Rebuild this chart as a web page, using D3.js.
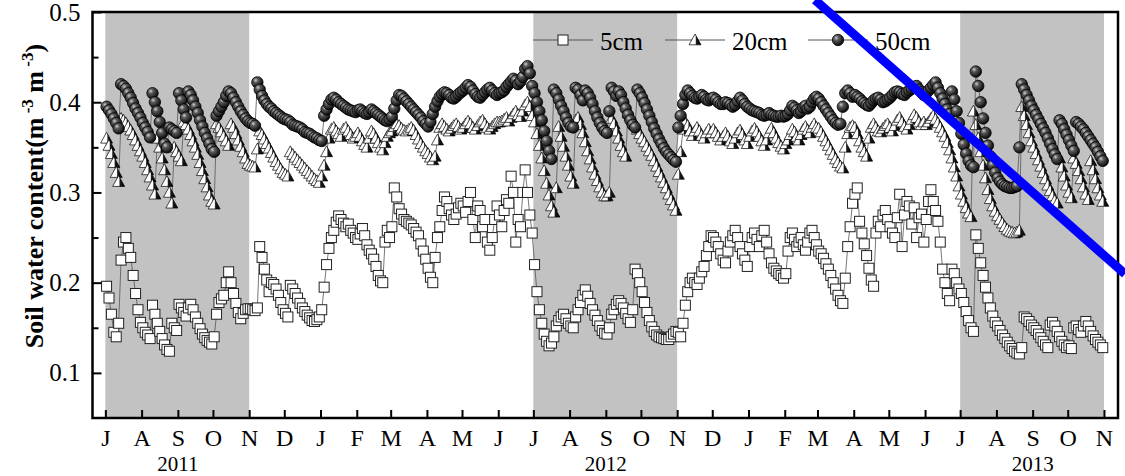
<!DOCTYPE html>
<html>
<head>
<meta charset="utf-8">
<script src="https://cdn.jsdelivr.net/npm/d3@7"></script>
<style>
  body { margin: 0; background: #fff; }
  svg { display: block; font-family: "Liberation Serif", "Times New Roman", serif; }
</style>
</head>
<body>
<div id="chart"></div>
<script>
// month tick labels Jul 2011 .. Nov 2013
const monthLabels = ["J","A","S","O","N","D","J","F","M","A","M","J","J","A","S","O","N","D","J","F","M","A","M","J","J","A","S","O","N"];
const years = ["2011", "2012", "2013"];
// grey bands: Jul-Oct of each year
const seasons = [
    ["2011-07-01", "2011-11-01"],
    ["2012-07-01", "2012-11-01"],
    ["2013-07-01", "2013-11-01"]
];
const seriesNames = ["5cm", "20cm", "50cm"];

// soil water content, one row per month (Jul 2011 .. Oct 2013), readings spread evenly over the month
const swc5 = [
    [0.196, 0.183, 0.165, 0.145, 0.14, 0.155, 0.225, 0.245, 0.25, 0.238, 0.228, 0.208, 0.188, 0.17, 0.156],
    [0.15, 0.145, 0.142, 0.138, 0.175, 0.165, 0.155, 0.146, 0.138, 0.131, 0.126, 0.124, 0.155, 0.15, 0.147],
    [0.176, 0.172, 0.167, 0.163, 0.172, 0.176, 0.17, 0.162, 0.155, 0.149, 0.143, 0.139, 0.136, 0.134, 0.132],
    [0.14, 0.165, 0.178, 0.182, 0.186, 0.2, 0.212, 0.2, 0.188, 0.177, 0.167, 0.16, 0.166, 0.17, 0.171],
    [0.171, 0.17, 0.169, 0.172, 0.24, 0.228, 0.215, 0.203, 0.19, 0.2, 0.198, 0.193, 0.186, 0.178, 0.17],
    [0.166, 0.162, 0.197, 0.193, 0.188, 0.183, 0.177, 0.172, 0.168, 0.164, 0.161, 0.158, 0.157, 0.159, 0.162],
    [0.17, 0.195, 0.22, 0.238, 0.25, 0.258, 0.267, 0.274, 0.27, 0.266, 0.262, 0.265, 0.258, 0.255, 0.25],
    [0.248, 0.254, 0.26, 0.252, 0.242, 0.236, 0.232, 0.226, 0.218, 0.208, 0.202, 0.2, 0.245, 0.258, 0.25],
    [0.262, 0.305, 0.295, 0.282, 0.276, 0.27, 0.268, 0.266, 0.264, 0.26, 0.256, 0.252, 0.243, 0.235, 0.226],
    [0.216, 0.206, 0.2, 0.228, 0.25, 0.262, 0.28, 0.295, 0.29, 0.282, 0.275, 0.27, 0.276, 0.283, 0.288],
    [0.285, 0.278, 0.29, 0.3, 0.27, 0.25, 0.285, 0.28, 0.262, 0.27, 0.245, 0.236, 0.25, 0.27, 0.285],
    [0.275, 0.262, 0.28, 0.292, 0.288, 0.318, 0.3, 0.245, 0.27, 0.262, 0.3, 0.325, 0.3, 0.275, 0.255],
    [0.22, 0.19, 0.17, 0.155, 0.143, 0.135, 0.13, 0.133, 0.14, 0.152, 0.158, 0.162, 0.165, 0.16, 0.155],
    [0.152, 0.15, 0.162, 0.17, 0.178, 0.186, 0.192, 0.185, 0.177, 0.17, 0.164, 0.158, 0.152, 0.147, 0.144],
    [0.143, 0.15, 0.165, 0.17, 0.176, 0.18, 0.177, 0.172, 0.166, 0.16, 0.156, 0.17, 0.215, 0.21, 0.2],
    [0.19, 0.178, 0.167, 0.158, 0.151, 0.146, 0.142, 0.14, 0.139, 0.138, 0.137, 0.137, 0.14, 0.143, 0.146],
    [0.145, 0.14, 0.155, 0.175, 0.19, 0.2, 0.205, 0.2, 0.198, 0.205, 0.212, 0.218, 0.23, 0.24, 0.252],
    [0.25, 0.245, 0.24, 0.232, 0.225, 0.222, 0.235, 0.245, 0.252, 0.258, 0.25, 0.24, 0.232, 0.225, 0.218],
    [0.24, 0.25, 0.255, 0.248, 0.24, 0.252, 0.258, 0.245, 0.232, 0.222, 0.216, 0.213, 0.21, 0.208, 0.205],
    [0.21, 0.235, 0.25, 0.255, 0.248, 0.24, 0.245, 0.25, 0.242, 0.236, 0.245, 0.255, 0.258, 0.25, 0.242],
    [0.235, 0.232, 0.227, 0.221, 0.215, 0.208, 0.2, 0.193, 0.186, 0.18, 0.177, 0.205, 0.24, 0.262, 0.288],
    [0.298, 0.305, 0.268, 0.255, 0.243, 0.23, 0.216, 0.203, 0.196, 0.255, 0.268, 0.262, 0.275, 0.28, 0.27],
    [0.262, 0.255, 0.25, 0.272, 0.298, 0.24, 0.275, 0.29, 0.285, 0.265, 0.283, 0.25, 0.272, 0.276, 0.245],
    [0.27, 0.29, 0.303, 0.29, 0.28, 0.268, 0.245, 0.215, 0.2, 0.188, 0.18, 0.215, 0.21, 0.2, 0.193],
    [0.188, 0.178, 0.168, 0.158, 0.15, 0.146, 0.253, 0.238, 0.222, 0.208, 0.195, 0.183, 0.172, 0.163, 0.156],
    [0.152, 0.147, 0.142, 0.138, 0.134, 0.13, 0.127, 0.124, 0.122, 0.121, 0.128, 0.162, 0.16, 0.157, 0.153],
    [0.15, 0.147, 0.143, 0.139, 0.135, 0.131, 0.128, 0.153, 0.156, 0.152, 0.146, 0.14, 0.135, 0.131, 0.128],
    [0.13, 0.127, 0.15, 0.152, 0.148, 0.145, 0.152, 0.157, 0.152, 0.146, 0.141, 0.137, 0.134, 0.131, 0.128]
];

const swc20 = [
    [0.36, 0.352, 0.343, 0.333, 0.322, 0.312, 0.382, 0.38, 0.377, 0.373, 0.369, 0.364, 0.358, 0.352, 0.346],
    [0.34, 0.333, 0.325, 0.317, 0.308, 0.298, 0.36, 0.35, 0.338, 0.325, 0.312, 0.3, 0.288, 0.35, 0.345],
    [0.34, 0.335, 0.378, 0.375, 0.37, 0.364, 0.357, 0.35, 0.342, 0.333, 0.324, 0.315, 0.306, 0.297, 0.29],
    [0.287, 0.376, 0.372, 0.367, 0.362, 0.357, 0.352, 0.376, 0.372, 0.365, 0.358, 0.351, 0.345, 0.338, 0.332],
    [0.33, 0.329, 0.328, 0.348, 0.368, 0.364, 0.359, 0.354, 0.349, 0.344, 0.339, 0.334, 0.33, 0.326, 0.322],
    [0.32, 0.318, 0.345, 0.342, 0.339, 0.336, 0.333, 0.33, 0.327, 0.324, 0.321, 0.318, 0.315, 0.313, 0.311],
    [0.318, 0.33, 0.345, 0.36, 0.37, 0.372, 0.368, 0.365, 0.362, 0.37, 0.372, 0.368, 0.364, 0.36, 0.362],
    [0.366, 0.362, 0.357, 0.353, 0.35, 0.36, 0.368, 0.365, 0.36, 0.355, 0.35, 0.347, 0.355, 0.362, 0.366],
    [0.368, 0.373, 0.376, 0.374, 0.371, 0.369, 0.368, 0.37, 0.372, 0.369, 0.364, 0.359, 0.354, 0.35, 0.346],
    [0.343, 0.339, 0.336, 0.34, 0.358, 0.372, 0.376, 0.373, 0.37, 0.368, 0.371, 0.374, 0.376, 0.373, 0.37],
    [0.372, 0.376, 0.379, 0.376, 0.372, 0.37, 0.374, 0.378, 0.38, 0.376, 0.372, 0.37, 0.373, 0.376, 0.378],
    [0.378, 0.379, 0.381, 0.383, 0.379, 0.383, 0.387, 0.39, 0.386, 0.384, 0.39, 0.397, 0.4, 0.395, 0.385],
    [0.378, 0.365, 0.352, 0.338, 0.324, 0.31, 0.297, 0.285, 0.278, 0.305, 0.373, 0.362, 0.351, 0.34, 0.33],
    [0.318, 0.31, 0.38, 0.383, 0.375, 0.366, 0.356, 0.346, 0.337, 0.328, 0.32, 0.313, 0.306, 0.3, 0.296],
    [0.296, 0.3, 0.382, 0.376, 0.368, 0.36, 0.352, 0.345, 0.34, 0.388, 0.385, 0.38, 0.375, 0.37, 0.365],
    [0.36, 0.356, 0.351, 0.346, 0.341, 0.335, 0.329, 0.323, 0.317, 0.311, 0.305, 0.298, 0.292, 0.286, 0.28],
    [0.32, 0.345, 0.37, 0.378, 0.374, 0.368, 0.363, 0.368, 0.372, 0.368, 0.363, 0.36, 0.366, 0.37, 0.366],
    [0.37, 0.366, 0.362, 0.358, 0.362, 0.366, 0.362, 0.357, 0.354, 0.36, 0.366, 0.369, 0.364, 0.358, 0.354],
    [0.362, 0.368, 0.371, 0.367, 0.362, 0.357, 0.352, 0.358, 0.366, 0.371, 0.366, 0.36, 0.355, 0.351, 0.348],
    [0.354, 0.358, 0.364, 0.37, 0.367, 0.362, 0.358, 0.364, 0.37, 0.373, 0.369, 0.366, 0.372, 0.376, 0.372],
    [0.371, 0.367, 0.362, 0.357, 0.352, 0.347, 0.342, 0.337, 0.333, 0.329, 0.327, 0.35, 0.365, 0.372, 0.374],
    [0.372, 0.365, 0.357, 0.35, 0.345, 0.34, 0.36, 0.372, 0.376, 0.372, 0.368, 0.367, 0.371, 0.374, 0.376],
    [0.372, 0.368, 0.374, 0.38, 0.383, 0.378, 0.373, 0.37, 0.375, 0.381, 0.386, 0.383, 0.378, 0.375, 0.378],
    [0.375, 0.378, 0.382, 0.385, 0.381, 0.377, 0.372, 0.367, 0.362, 0.355, 0.347, 0.338, 0.328, 0.318, 0.307],
    [0.298, 0.29, 0.283, 0.277, 0.273, 0.39, 0.375, 0.36, 0.345, 0.33, 0.316, 0.303, 0.293, 0.285, 0.279],
    [0.274, 0.27, 0.266, 0.262, 0.259, 0.257, 0.256, 0.255, 0.256, 0.258, 0.395, 0.385, 0.375, 0.366, 0.357],
    [0.35, 0.343, 0.336, 0.329, 0.322, 0.315, 0.308, 0.302, 0.296, 0.291, 0.288, 0.338, 0.328, 0.318, 0.308],
    [0.3, 0.294, 0.338, 0.332, 0.324, 0.315, 0.306, 0.298, 0.292, 0.335, 0.325, 0.315, 0.305, 0.297, 0.29]
];

const swc50 = [
    [0.395, 0.391, 0.387, 0.382, 0.377, 0.371, 0.42, 0.418, 0.415, 0.41, 0.405, 0.399, 0.393, 0.388, 0.383],
    [0.377, 0.372, 0.367, 0.361, 0.41, 0.4, 0.39, 0.378, 0.366, 0.354, 0.35, 0.372, 0.37, 0.368, 0.366],
    [0.41, 0.402, 0.392, 0.383, 0.412, 0.408, 0.402, 0.395, 0.388, 0.38, 0.373, 0.366, 0.36, 0.354, 0.348],
    [0.345, 0.385, 0.39, 0.395, 0.4, 0.407, 0.412, 0.41, 0.405, 0.4, 0.395, 0.39, 0.386, 0.382, 0.379],
    [0.377, 0.376, 0.374, 0.422, 0.414, 0.407, 0.402, 0.398, 0.395, 0.393, 0.39, 0.388, 0.386, 0.384, 0.382],
    [0.381, 0.38, 0.378, 0.375, 0.374, 0.373, 0.372, 0.37, 0.367, 0.366, 0.365, 0.363, 0.361, 0.36, 0.358],
    [0.357, 0.385, 0.392, 0.398, 0.403, 0.405, 0.403, 0.4, 0.398, 0.396, 0.394, 0.392, 0.391, 0.39, 0.389],
    [0.391, 0.392, 0.39, 0.388, 0.387, 0.389, 0.392, 0.39, 0.388, 0.386, 0.384, 0.382, 0.38, 0.379, 0.381],
    [0.384, 0.393, 0.402, 0.408, 0.407, 0.404, 0.401, 0.398, 0.395, 0.392, 0.389, 0.386, 0.383, 0.379, 0.376],
    [0.373, 0.378, 0.387, 0.395, 0.401, 0.406, 0.409, 0.411, 0.41, 0.408, 0.405, 0.404, 0.406, 0.409, 0.411],
    [0.413, 0.416, 0.419, 0.417, 0.413, 0.409, 0.406, 0.405, 0.408, 0.411, 0.414, 0.416, 0.413, 0.41, 0.408],
    [0.41, 0.411, 0.413, 0.417, 0.42, 0.423, 0.426, 0.424, 0.42, 0.423, 0.428, 0.437, 0.44, 0.432, 0.418],
    [0.41, 0.4, 0.39, 0.38, 0.368, 0.357, 0.346, 0.337, 0.414, 0.41, 0.403, 0.396, 0.39, 0.383, 0.377],
    [0.373, 0.372, 0.416, 0.414, 0.408, 0.402, 0.413, 0.41, 0.405, 0.398, 0.39, 0.383, 0.377, 0.372, 0.368],
    [0.366, 0.39, 0.416, 0.412, 0.407, 0.412, 0.408, 0.4, 0.393, 0.386, 0.38, 0.375, 0.372, 0.414, 0.41],
    [0.405, 0.399, 0.392, 0.385, 0.378, 0.371, 0.365, 0.359, 0.354, 0.349, 0.345, 0.342, 0.339, 0.336, 0.334],
    [0.372, 0.385, 0.398, 0.408, 0.413, 0.41, 0.407, 0.405, 0.404, 0.406, 0.408, 0.406, 0.403, 0.402, 0.404],
    [0.405, 0.403, 0.4, 0.398, 0.398, 0.4, 0.399, 0.397, 0.395, 0.397, 0.401, 0.405, 0.402, 0.398, 0.395],
    [0.393, 0.391, 0.39, 0.389, 0.388, 0.386, 0.385, 0.386, 0.388, 0.386, 0.385, 0.384, 0.384, 0.385, 0.384],
    [0.385, 0.387, 0.391, 0.396, 0.394, 0.391, 0.388, 0.39, 0.394, 0.396, 0.393, 0.395, 0.4, 0.404, 0.406],
    [0.404, 0.4, 0.396, 0.392, 0.388, 0.384, 0.38, 0.377, 0.375, 0.376, 0.395, 0.41, 0.413, 0.41, 0.406],
    [0.408, 0.406, 0.404, 0.401, 0.399, 0.397, 0.396, 0.399, 0.402, 0.404, 0.405, 0.403, 0.4, 0.401, 0.403],
    [0.405, 0.408, 0.411, 0.412, 0.411, 0.409, 0.408, 0.411, 0.413, 0.415, 0.417, 0.418, 0.414, 0.411, 0.408],
    [0.41, 0.413, 0.416, 0.419, 0.422, 0.416, 0.41, 0.404, 0.398, 0.392, 0.387, 0.412, 0.403, 0.39, 0.377],
    [0.365, 0.353, 0.343, 0.335, 0.33, 0.328, 0.434, 0.418, 0.4, 0.382, 0.366, 0.352, 0.34, 0.33, 0.322],
    [0.316, 0.312, 0.309, 0.307, 0.306, 0.305, 0.305, 0.306, 0.307, 0.35, 0.42, 0.414, 0.408, 0.402, 0.396],
    [0.391, 0.386, 0.381, 0.376, 0.371, 0.366, 0.36, 0.354, 0.348, 0.342, 0.337, 0.38, 0.376, 0.37, 0.364],
    [0.358, 0.352, 0.346, 0.378, 0.376, 0.373, 0.37, 0.366, 0.362, 0.358, 0.354, 0.35, 0.345, 0.34, 0.335]
];

const width = 1125;
const height = 476;
const plot = { left: 92.5, right: 1118, top: 12, bottom: 418 };

const svg = d3.select("#chart")
    .append("svg")
    .attr("width", width)
    .attr("height", height);

const x = d3.scaleTime()
    .domain([new Date(2011, 5, 20), new Date(2013, 10, 13)])
    .range([plot.left, plot.right]);

const y = d3.scaleLinear()
    .domain([0.05, 0.5])
    .range([plot.bottom, plot.top]);

const parse = d3.timeParse("%Y-%m-%d");
const monthStarts = d3.timeMonth.range(new Date(2011, 6, 1), new Date(2013, 10, 1));
const monthTicks = d3.timeMonth.range(new Date(2011, 6, 1), new Date(2013, 10, 2));

function toPoints(rows) {
    const pts = [];
    rows.forEach((vals, m) => {
        const t0 = monthStarts[m];
        const t1 = d3.timeMonth.offset(t0, 1);
        const step = (t1 - t0) / vals.length;
        vals.forEach((v, k) => pts.push({ date: new Date(+t0 + (k + 0.5) * step), value: v }));
    });
    return pts;
}

// gradients for the shaded symbols
const defs = svg.append("defs");
const ball = defs.append("radialGradient")
    .attr("id", "ball").attr("cx", "35%").attr("cy", "32%").attr("r", "70%");
ball.append("stop").attr("offset", "0%").attr("stop-color", "#cfcfcf");
ball.append("stop").attr("offset", "30%").attr("stop-color", "#5a5a5a");
ball.append("stop").attr("offset", "100%").attr("stop-color", "#080808");

const tri = defs.append("linearGradient")
    .attr("id", "tri").attr("x1", "0%").attr("x2", "100%").attr("y1", "0%").attr("y2", "0%");
tri.append("stop").attr("offset", "0%").attr("stop-color", "#ffffff");
tri.append("stop").attr("offset", "52%").attr("stop-color", "#ffffff");
tri.append("stop").attr("offset", "62%").attr("stop-color", "#1a1a1a");
tri.append("stop").attr("offset", "100%").attr("stop-color", "#000000");

// grey seasons
svg.append("g")
    .selectAll("rect")
    .data(seasons)
    .join("rect")
    .attr("x", d => x(parse(d[0])))
    .attr("width", d => x(parse(d[1])) - x(parse(d[0])))
    .attr("y", plot.top)
    .attr("height", plot.bottom - plot.top)
    .attr("fill", "#c2c2c2");

// symbol painters
const symbols = {
    "5cm": g => g.append("rect")
        .attr("x", -5).attr("y", -5).attr("width", 10).attr("height", 10)
        .attr("fill", "#fff").attr("stroke", "#222").attr("stroke-width", 1),
    "20cm": g => g.append("path")
        .attr("d", "M0,-6L6,4.8L-6,4.8Z")
        .attr("fill", "url(#tri)").attr("stroke", "#000").attr("stroke-width", 0.7),
    "50cm": g => g.append("circle")
        .attr("r", 5.7)
        .attr("fill", "url(#ball)").attr("stroke", "#000").attr("stroke-width", 0.8)
};

const line = d3.line()
    .x(d => x(d.date))
    .y(d => y(d.value));

[swc5, swc20, swc50].forEach((rows, i) => {
    const pts = toPoints(rows);
    const g = svg.append("g");
    g.append("path")
        .datum(pts)
        .attr("d", line)
        .attr("fill", "none")
        .attr("stroke", "#555")
        .attr("stroke-width", 0.8);
    g.selectAll("g")
        .data(pts)
        .join("g")
        .attr("transform", d => `translate(${x(d.date)},${y(d.value)})`)
        .each(function () { symbols[seriesNames[i]](d3.select(this)); });
});

// axes
const xAxis = svg.append("g")
    .attr("transform", `translate(0,${plot.bottom})`)
    .call(d3.axisBottom(x)
        .tickValues(monthTicks)
        .tickSize(-8)
        .tickPadding(11)
        .tickFormat((d, i) => monthLabels[i]));

const yAxis = svg.append("g")
    .attr("transform", `translate(${plot.left},0)`)
    .call(d3.axisLeft(y)
        .tickValues([0.1, 0.2, 0.3, 0.4, 0.5])
        .tickSize(-9)
        .tickPadding(12)
        .tickFormat(d3.format(".1f")));

const yMinor = svg.append("g")
    .attr("transform", `translate(${plot.left},0)`)
    .call(d3.axisLeft(y)
        .tickValues([0.15, 0.25, 0.35, 0.45])
        .tickSize(-6)
        .tickFormat(""));

[xAxis, yAxis, yMinor].forEach(a => {
    a.select(".domain").remove();
    a.selectAll("line").attr("stroke", "#000").attr("stroke-width", 2);
    a.selectAll("text")
        .attr("font-family", "'Liberation Serif', 'Times New Roman', serif")
        .attr("font-size", 25)
        .attr("fill", "#000");
});
xAxis.selectAll("text").attr("font-size", 24);

// year labels under the axis
svg.append("g")
    .selectAll("text")
    .data(years)
    .join("text")
    .attr("x", d => x(new Date(+d, 8, 1)))
    .attr("y", 471)
    .attr("text-anchor", "middle")
    .attr("font-size", 21)
    .text(d => d);

// frame
svg.append("rect")
    .attr("x", plot.left)
    .attr("y", plot.top)
    .attr("width", plot.right - plot.left)
    .attr("height", plot.bottom - plot.top)
    .attr("fill", "none")
    .attr("stroke", "#000")
    .attr("stroke-width", 2.5);

// y axis title with superscripts
const yTitle = svg.append("text")
    .attr("transform", "translate(43,196) rotate(-90)")
    .attr("text-anchor", "middle")
    .attr("font-size", 26)
    .attr("font-weight", "bold");
yTitle.append("tspan").text("Soil water content(m");
yTitle.append("tspan").attr("dy", -10).attr("font-size", 17).text(" -3");
yTitle.append("tspan").attr("dy", 10).text(" m");
yTitle.append("tspan").attr("dy", -10).attr("font-size", 17).text(" -3");
yTitle.append("tspan").attr("dy", 10).text(")");

// legend
const legendX = [533, 665, 808];
const legend = svg.append("g")
    .selectAll("g")
    .data(seriesNames)
    .join("g")
    .attr("transform", (d, i) => `translate(${legendX[i]},40)`);
legend.append("line")
    .attr("x1", 0).attr("x2", 60)
    .attr("stroke", "#555").attr("stroke-width", 1);
legend.append("g")
    .attr("transform", "translate(30,0)")
    .each(function (d) { symbols[d](d3.select(this)); });
legend.append("text")
    .attr("x", 67)
    .attr("y", 10)
    .attr("font-size", 25)
    .text(d => d);

// blue stroke drawn across the picture
svg.append("line")
    .attr("x1", 815).attr("y1", 0)
    .attr("x2", 1125).attr("y2", 274)
    .attr("stroke", "#0000ff")
    .attr("stroke-width", 9);
</script>
</body>
</html>
